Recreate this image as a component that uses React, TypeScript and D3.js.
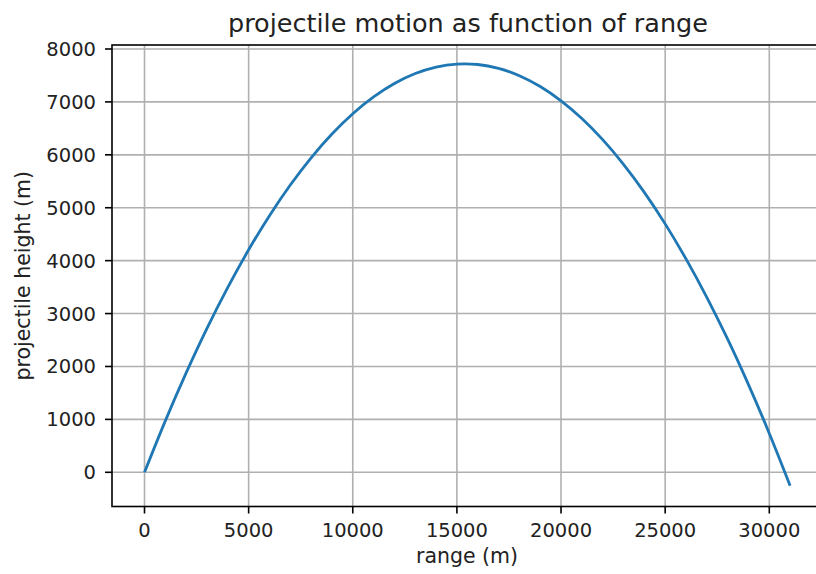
import React, { useEffect, useRef } from "react";
import * as d3 from "d3";

const rangeM = [0, 1000, 2000, 3000, 4000, 5000, 6000, 7000, 8000, 9000, 10000, 11000, 12000, 13000, 14000, 15000, 16000, 17000, 18000, 19000, 20000, 21000, 22000, 23000, 24000, 25000, 26000, 27000, 28000, 29000, 30000, 31000];
const heightM = [0, 972, 1878, 2719, 3494, 4205, 4850, 5429, 5944, 6393, 6777, 7095, 7348, 7536, 7658, 7715, 7707, 7634, 7495, 7291, 7021, 6687, 6287, 5821, 5291, 4695, 4033, 3307, 2515, 1657, 735, -253];
const xTicks = [0, 5000, 10000, 15000, 20000, 25000, 30000];
const yTicks = [0, 1000, 2000, 3000, 4000, 5000, 6000, 7000, 8000];
const titleText = "projectile motion as function of range";
const xLabel = "range (m)";
const yLabel = "projectile height (m)";

const W = 816;
const H = 574;
const FONT = "'DejaVu Sans', sans-serif";

export default function App() {
  const ref = useRef<SVGSVGElement | null>(null);
  useEffect(() => {
    const svg = d3.select(ref.current);
    svg.selectAll("*").remove();
    const left = 112, top = 45, bottom = 506.5;
    const x = d3.scaleLinear().domain([0, 30000]).range([144.5, 769.3]);
    const right = x(32550);
    const y = d3.scaleLinear().domain([0, 8000]).range([472.3, 49]);

    svg.append("rect").attr("width", W).attr("height", H).attr("fill", "#fff");

    const g = svg.append("g");
    // grid
    g.selectAll(".gx").data(xTicks).enter().append("line")
      .attr("x1", d => x(d)).attr("x2", d => x(d)).attr("y1", top).attr("y2", bottom)
      .attr("stroke", "#b0b0b0").attr("stroke-width", 1.6);
    g.selectAll(".gy").data(yTicks).enter().append("line")
      .attr("y1", d => y(d)).attr("y2", d => y(d)).attr("x1", left).attr("x2", right)
      .attr("stroke", "#b0b0b0").attr("stroke-width", 1.6);

    // line
    const line = d3.line<number>().x((d, i) => x(rangeM[i])).y(d => y(d)).curve(d3.curveCatmullRom);
    g.append("path").datum(heightM).attr("d", line).attr("fill", "none")
      .attr("stroke", "#1f77b4").attr("stroke-width", 2.8).attr("stroke-linecap", "butt");

    // spines
    g.append("rect").attr("x", left).attr("y", top).attr("width", right - left).attr("height", bottom - top)
      .attr("fill", "none").attr("stroke", "#000").attr("stroke-width", 1.6);

    // ticks
    g.selectAll(".tx").data(xTicks).enter().append("line")
      .attr("x1", d => x(d)).attr("x2", d => x(d)).attr("y1", bottom).attr("y2", bottom + 7)
      .attr("stroke", "#000").attr("stroke-width", 1.6);
    g.selectAll(".tyl").data(xTicks).enter().append("text")
      .attr("x", d => x(d)).attr("y", bottom + 30).attr("text-anchor", "middle")
      .attr("font-family", FONT).attr("font-size", 19.5).attr("fill", "#222").text(d => String(d));
    g.selectAll(".ty").data(yTicks).enter().append("line")
      .attr("y1", d => y(d)).attr("y2", d => y(d)).attr("x1", left).attr("x2", left - 7)
      .attr("stroke", "#000").attr("stroke-width", 1.6);
    g.selectAll(".tyt").data(yTicks).enter().append("text")
      .attr("x", left - 16).attr("y", d => y(d)).attr("dy", "0.36em").attr("text-anchor", "end")
      .attr("font-family", FONT).attr("font-size", 19.5).attr("fill", "#222").text(d => String(d));

    svg.append("text").attr("x", 468).attr("y", 32).attr("text-anchor", "middle")
      .attr("font-family", FONT).attr("font-size", 25.5).attr("fill", "#222").text(titleText);
    svg.append("text").attr("x", 467).attr("y", 563).attr("text-anchor", "middle")
      .attr("font-family", FONT).attr("font-size", 20.5).attr("fill", "#222").text(xLabel);
    svg.append("text").attr("transform", `translate(30,${(top + bottom) / 2}) rotate(-90)`)
      .attr("text-anchor", "middle")
      .attr("font-family", FONT).attr("font-size", 20.5).attr("fill", "#222").text(yLabel);
  }, []);
  return (
    <svg ref={ref} width={W} height={H} style={{ position: "absolute", left: 0, top: 0 }} />
  );
}
